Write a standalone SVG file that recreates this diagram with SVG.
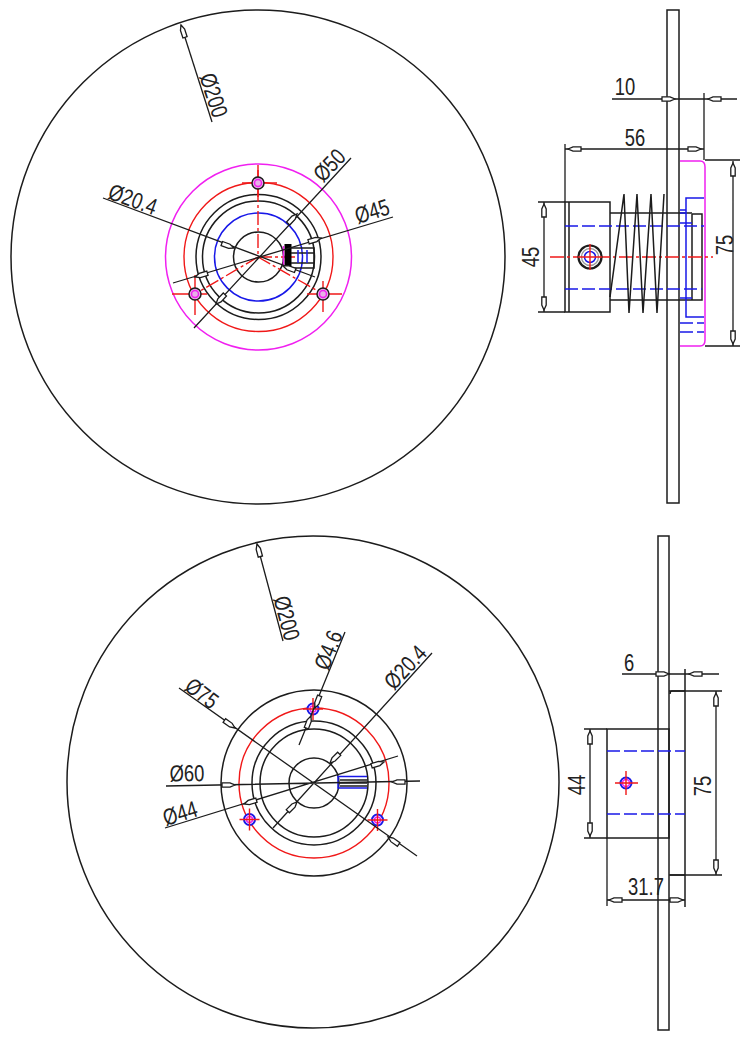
<svg xmlns="http://www.w3.org/2000/svg" xmlns:xlink="http://www.w3.org/1999/xlink" width="750" height="1038" viewBox="0 0 750 1038">
<style>
.k{fill:none;stroke:#1c1c1c;stroke-width:1.5}
.d{fill:none;stroke:#1c1c1c;stroke-width:1.3}
.r{fill:none;stroke:#f01818;stroke-width:1.4}
.rd{fill:none;stroke:#f01818;stroke-width:1.4;stroke-dasharray:14 3 3 3}
.b{fill:none;stroke:#1818e8;stroke-width:1.5}
.bd{fill:none;stroke:#1818e8;stroke-width:1.5;stroke-dasharray:13 4}
.m{fill:none;stroke:#f020f0;stroke-width:1.5}
text{font-family:"Liberation Sans",Arial,sans-serif;font-size:20px;fill:#222;text-anchor:middle;dominant-baseline:central}
</style>
<defs>
<path id="a" d="M0,0L5,-2.200H13V2.200H5Z" fill="#fff" stroke="#1c1c1c" stroke-width="1.300"/>
<g id="hT"><circle r="6" fill="#e8b0e8" stroke="#1c1c1c" stroke-width="1.500"/><circle r="3.500" class="m"/></g>
<g id="hB"><circle r="5.500" fill="#fff" stroke="#1818e8" stroke-width="2"/><circle r="3" class="m"/><path class="r" d="M-10,0H10M0,-11V11"/></g>
</defs>
<rect width="750" height="1038" fill="#fff"/>

<g id="front-top">
<circle class="k" cx="258" cy="257" r="247"/>
<circle class="m" cx="258.500" cy="257" r="93"/>
<circle class="r" cx="258.500" cy="257" r="74.500"/>
<circle class="k" cx="258.500" cy="257" r="62.500"/>
<circle class="k" cx="258.500" cy="257" r="56"/>
<circle class="b" cx="258.500" cy="257" r="44"/>
<circle class="k" cx="258.500" cy="257" r="25"/>
<path class="rd" d="M258,165V257M258,257L195,294M258,257L323,294M258,257H298"/>
<path class="r" d="M242,183H277M258,170V197M172,294H207M195,275V315M307,294H342M323,281V312"/>
<use href="#hT" x="258" y="183"/><use href="#hT" x="195" y="294"/><use href="#hT" x="323" y="294"/>
</g>
<g id="key-top">
<rect x="284.500" y="244" width="7" height="24" fill="#000"/>
<path class="m" d="M283.500,246V266"/>
<path class="k" d="M291,248H314V268H291M291,253H314M291,263H314"/>
<path class="bd" d="M298,250V266M307,250V266"/>
</g>

<g id="side-top">
<rect class="k" x="667" y="10" width="12" height="493"/>
<path class="m" d="M680,161H700Q705,161 705,167V340Q705,346 700,346H680"/>
<rect class="k" x="565" y="202" width="45" height="110"/>
<path class="k" d="M569,202V312M610,213H692M610,300H692M692,214H702V300H692V214"/>
<path class="b" d="M704,198H686V317H704M680,210H686M680,213H686M680,223H692M680,298H692"/>
<path class="bd" d="M565,226H704M565,289H702M680,323H704M680,332H704"/>
<path class="rd" d="M550,257H713"/>
<circle cx="590" cy="257" r="11.500" fill="#fff" stroke="#1c1c1c" stroke-width="2.200"/>
<circle cx="590" cy="257" r="8.500" fill="none" stroke="#999" stroke-width="1.300"/>
<circle class="b" cx="590" cy="257" r="5.500"/>
<path class="r" d="M590,244V270M578,257H602"/>
<path class="k" d="M624,194L610,297M624,194L629,313M637,194L629,313M637,194L643,313M651,194L643,313M651,194L657,313M664,194L657,313"/>
</g>

<g id="front-bottom">
<circle class="k" cx="313" cy="782" r="246"/>
<circle class="k" cx="314" cy="783" r="93"/>
<circle class="r" cx="314" cy="783" r="75"/>
<circle class="k" cx="314" cy="783" r="62"/>
<circle class="k" cx="314" cy="783" r="54"/>
<circle class="k" cx="314" cy="783" r="25"/>
<use href="#hB" x="313" y="709"/><use href="#hB" x="249.500" y="819.500"/><use href="#hB" x="377.500" y="820"/>
</g>
<g id="key-bottom">
<path class="k" d="M340,780H367M340,786H367M338,783H367"/>
<path class="b" d="M367,776.500H338V788H367" stroke-width="2"/>
</g>

<g id="side-bottom">
<rect class="k" x="658" y="536" width="11" height="494"/>
<rect class="k" x="607" y="729" width="62" height="109"/>
<path class="k" d="M685,691H672Q670,691 670,694M670,875H685M685,669V907"/>
<path class="bd" d="M607,751H685M607,814H685"/>
<circle cx="626" cy="783" r="5.500" fill="#fff" stroke="#1818e8" stroke-width="2"/>
<circle class="m" cx="626" cy="783" r="3.500"/>
<path class="r" d="M615,783H638M626,771V795"/>
</g>

<g id="connectors">
<path class="d" d="M181,25L212,122"/>
<use href="#a" transform="translate(181,25) rotate(72)"/>
<path class="d" d="M103,198L315,277M351,158L194,328M393,217L173,283"/>
<use href="#a" transform="translate(297,214) rotate(133)"/>
<use href="#a" transform="translate(216,304) rotate(-47)"/>
<use href="#a" transform="translate(321,238) rotate(163)"/>
<use href="#a" transform="translate(195,277) rotate(-17)"/>
<use href="#a" transform="translate(283,266) rotate(20)"/>
<use href="#a" transform="translate(234,248) rotate(200)"/>

<path class="d" d="M612,99H737M704,93V160M565,144V202M565,149H704M705,160H740M733,161V346M705,346H740M538,202H565M538,312H565M544,202V312"/>
<use href="#a" transform="translate(675,99) rotate(180)"/>
<use href="#a" transform="translate(708,99)"/>
<use href="#a" transform="translate(568,149)"/>
<use href="#a" transform="translate(701,149) rotate(180)"/>
<use href="#a" transform="translate(733,163) rotate(90)"/>
<use href="#a" transform="translate(733,344) rotate(-90)"/>
<use href="#a" transform="translate(544,204) rotate(90)"/>
<use href="#a" transform="translate(544,310) rotate(-90)"/>

<path class="d" d="M257,544L283,641M345,632L299,745M432,653L273,828M179,688L417,856M166,786L420,781M165,828L398,756"/>
<use href="#a" transform="translate(257,544) rotate(75)"/>
<use href="#a" transform="translate(315,708) rotate(-69)"/>
<use href="#a" transform="translate(311,716) rotate(111)"/>
<use href="#a" transform="translate(330,763) rotate(-45)"/>
<use href="#a" transform="translate(297,802) rotate(135)"/>
<use href="#a" transform="translate(235,728) rotate(215)"/>
<use href="#a" transform="translate(388,837) rotate(35)"/>
<use href="#a" transform="translate(235,785) rotate(180)"/>
<use href="#a" transform="translate(392,782)"/>
<use href="#a" transform="translate(384,762) rotate(163)"/>
<use href="#a" transform="translate(244,804) rotate(-17)"/>

<path class="d" d="M622,674H719M607,838V906M607,900H685M669,691H722M669,875H722M716,691V875M584,729H607M584,838H607M590,729V838"/>
<use href="#a" transform="translate(669,674) rotate(180)"/>
<use href="#a" transform="translate(689,674)"/>
<use href="#a" transform="translate(609,900)"/>
<use href="#a" transform="translate(683,900) rotate(180)"/>
<use href="#a" transform="translate(716,693) rotate(90)"/>
<use href="#a" transform="translate(716,873) rotate(-90)"/>
<use href="#a" transform="translate(590,731) rotate(90)"/>
<use href="#a" transform="translate(590,836) rotate(-90)"/>
</g>

<g id="labels">
<text transform="translate(214,95) rotate(72) scale(.92,1.15)">Ø200</text>
<text transform="translate(133,199) rotate(20) scale(.92,1.15)">Ø20.4</text>
<text transform="translate(329,165) rotate(-46) scale(.92,1.15)">Ø50</text>
<text transform="translate(372,211) rotate(-17) scale(.92,1.15)">Ø45</text>
<text transform="translate(635,138) scale(.92,1.15)">56</text>
<text transform="translate(625,87) scale(.92,1.15)">10</text>
<text transform="translate(531,257) rotate(-90) scale(.92,1.15)">45</text>
<text transform="translate(725,245) rotate(-90) scale(.92,1.15)">75</text>
<text transform="translate(287,618) rotate(75) scale(.92,1.15)">Ø200</text>
<text transform="translate(328,650) rotate(-68) scale(.92,1.15)">Ø4.6</text>
<text transform="translate(405,667) rotate(-47) scale(.92,1.15)">Ø20.4</text>
<text transform="translate(202,693) rotate(37) scale(.92,1.15)">Ø75</text>
<text transform="translate(187,773) rotate(-1) scale(.92,1.15)">Ø60</text>
<text transform="translate(180,813) rotate(-17) scale(.92,1.15)">Ø44</text>
<text transform="translate(629,663) scale(.92,1.15)">6</text>
<text transform="translate(646,887) scale(.92,1.15)">31.7</text>
<text transform="translate(577,785) rotate(-90) scale(.92,1.15)">44</text>
<text transform="translate(703,786) rotate(-90) scale(.92,1.15)">75</text>
</g>
</svg>
